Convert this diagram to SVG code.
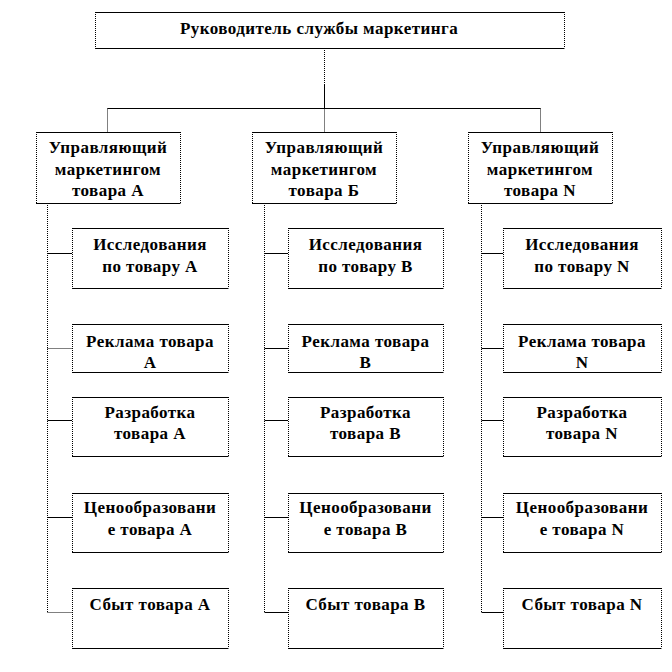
<svg xmlns="http://www.w3.org/2000/svg" width="672" height="672" viewBox="0 0 672 672">
<style>
.bg{fill:#fff;stroke:none}
.s{stroke:#000;stroke-width:1;fill:none}
.d{stroke:#000;stroke-width:1;fill:none;stroke-dasharray:1 1}
text{font-family:"Liberation Serif","Times New Roman",serif;font-weight:bold;font-size:17px;fill:#000;text-anchor:middle;letter-spacing:0.45px}
</style>
<rect x="0" y="0" width="672" height="672" fill="#fff"/>
<g id="connectors">
<path class="d" d="M324.5 48V85"/>
<path class="s" d="M324.5 85V108.5"/>
<path class="s" d="M107.5 108.5H540.5"/>
<path class="d" d="M107.5 108.5V132M324.5 108.5V132M540.5 108.5V132"/>
<path class="d" d="M47.5 203V612.5M264.5 203V612.5M481.5 203V612.5"/>
<path class="s" d="M47.5 253.5H72M47.5 420.5H72M47.5 517.5H72"/>
<path class="d" d="M47.5 348.5H72M47.5 612.5H72"/>
<path class="s" d="M264.5 253.5H288M264.5 348.5H288M264.5 420.5H288M264.5 517.5H288M264.5 612.5H288"/>
<path class="s" d="M481.5 253.5H503M481.5 348.5H503M481.5 420.5H503M481.5 517.5H503M481.5 612.5H503"/>
</g>
<g id="head">
<rect class="bg" x="95" y="12" width="469" height="36"/>
<path class="s" d="M95 12.5H564.5M95 48.5H564.5"/><path class="d" d="M95.5 12V48M564.5 12V48"/>
<text x="319" y="34">Руководитель  службы маркетинга</text>
</g>
<g id="mgrA">
<rect class="bg" x="36" y="132" width="144" height="71"/>
<path class="s" d="M36 132.5H180.5M36 203.5H180.5"/><path class="d" d="M36.5 132V203M180.5 132V203"/>
<text x="108" y="153">Управляющий</text><text x="108" y="175">маркетингом</text><text x="108" y="196">товара А</text>
</g>
<g id="mgrB">
<rect class="bg" x="252" y="132" width="144" height="71"/>
<path class="s" d="M252 132.5H396.5M252 203.5H396.5"/><path class="d" d="M252.5 132V203M396.5 132V203"/>
<text x="324" y="153">Управляющий</text><text x="324" y="175">маркетингом</text><text x="324" y="196">товара Б</text>
</g>
<g id="mgrN">
<rect class="bg" x="468" y="132" width="144" height="71"/>
<path class="s" d="M468 132.5H612.5M468 203.5H612.5"/><path class="d" d="M468.5 132V203M612.5 132V203"/>
<text x="540" y="153">Управляющий</text><text x="540" y="175">маркетингом</text><text x="540" y="196">товара N</text>
</g>
<g id="a1"><rect class="bg" x="72" y="228" width="156" height="60"/><path class="s" d="M72 228.5H228.5M72 288.5H228.5"/><path class="d" d="M72.5 228V288M228.5 228V288"/>
<text x="150" y="250">Исследования</text><text x="150" y="272">по товару А</text></g>
<g id="a2"><rect class="bg" x="72" y="324" width="156" height="48"/><path class="s" d="M72 324.5H228.5M72 372.5H228.5"/><path class="d" d="M72.5 324V372M228.5 324V372"/>
<text x="150" y="347">Реклама товара</text><text x="150" y="368">А</text></g>
<g id="a3"><rect class="bg" x="72" y="397" width="156" height="59"/><path class="s" d="M72 397.5H228.5M72 456.5H228.5"/><path class="d" d="M72.5 397V456M228.5 397V456"/>
<text x="150" y="418">Разработка</text><text x="150" y="439">товара А</text></g>
<g id="a4"><rect class="bg" x="72" y="493" width="156" height="59"/><path class="s" d="M72 493.5H228.5M72 552.5H228.5"/><path class="d" d="M72.5 493V552M228.5 493V552"/>
<text x="150" y="513">Ценообразовани</text><text x="150" y="535">е товара А</text></g>
<g id="a5"><rect class="bg" x="72" y="588" width="156" height="60"/><path class="s" d="M72 588.5H228.5M72 648.5H228.5"/><path class="d" d="M72.5 588V648M228.5 588V648"/>
<text x="150" y="610">Сбыт товара А</text></g>
<g id="b1"><rect class="bg" x="288" y="228" width="155" height="60"/><path class="s" d="M288 228.5H443.5M288 288.5H443.5"/><path class="d" d="M288.5 228V288M443.5 228V288"/>
<text x="365.5" y="250">Исследования</text><text x="365.5" y="272">по товару В</text></g>
<g id="b2"><rect class="bg" x="288" y="324" width="155" height="48"/><path class="s" d="M288 324.5H443.5M288 372.5H443.5"/><path class="d" d="M288.5 324V372M443.5 324V372"/>
<text x="365.5" y="347">Реклама товара</text><text x="365.5" y="368">В</text></g>
<g id="b3"><rect class="bg" x="288" y="397" width="155" height="59"/><path class="s" d="M288 397.5H443.5M288 456.5H443.5"/><path class="d" d="M288.5 397V456M443.5 397V456"/>
<text x="365.5" y="418">Разработка</text><text x="365.5" y="439">товара В</text></g>
<g id="b4"><rect class="bg" x="288" y="493" width="155" height="59"/><path class="s" d="M288 493.5H443.5M288 552.5H443.5"/><path class="d" d="M288.5 493V552M443.5 493V552"/>
<text x="365.5" y="513">Ценообразовани</text><text x="365.5" y="535">е товара В</text></g>
<g id="b5"><rect class="bg" x="288" y="588" width="155" height="60"/><path class="s" d="M288 588.5H443.5M288 648.5H443.5"/><path class="d" d="M288.5 588V648M443.5 588V648"/>
<text x="365.5" y="610">Сбыт товара В</text></g>
<g id="n1"><rect class="bg" x="503" y="228" width="158" height="60"/><path class="s" d="M503 228.5H661.5M503 288.5H661.5"/><path class="d" d="M503.5 228V288M661.5 228V288"/>
<text x="582" y="250">Исследования</text><text x="582" y="272">по товару N</text></g>
<g id="n2"><rect class="bg" x="503" y="324" width="158" height="48"/><path class="s" d="M503 324.5H661.5M503 372.5H661.5"/><path class="d" d="M503.5 324V372M661.5 324V372"/>
<text x="582" y="347">Реклама товара</text><text x="582" y="368">N</text></g>
<g id="n3"><rect class="bg" x="503" y="397" width="158" height="59"/><path class="s" d="M503 397.5H661.5M503 456.5H661.5"/><path class="d" d="M503.5 397V456M661.5 397V456"/>
<text x="582" y="418">Разработка</text><text x="582" y="439">товара N</text></g>
<g id="n4"><rect class="bg" x="503" y="493" width="158" height="59"/><path class="s" d="M503 493.5H661.5M503 552.5H661.5"/><path class="d" d="M503.5 493V552M661.5 493V552"/>
<text x="582" y="513">Ценообразовани</text><text x="582" y="535">е товара N</text></g>
<g id="n5"><rect class="bg" x="503" y="588" width="158" height="60"/><path class="s" d="M503 588.5H661.5M503 648.5H661.5"/><path class="d" d="M503.5 588V648M661.5 588V648"/>
<text x="582" y="610">Сбыт товара N</text></g>
</svg>
